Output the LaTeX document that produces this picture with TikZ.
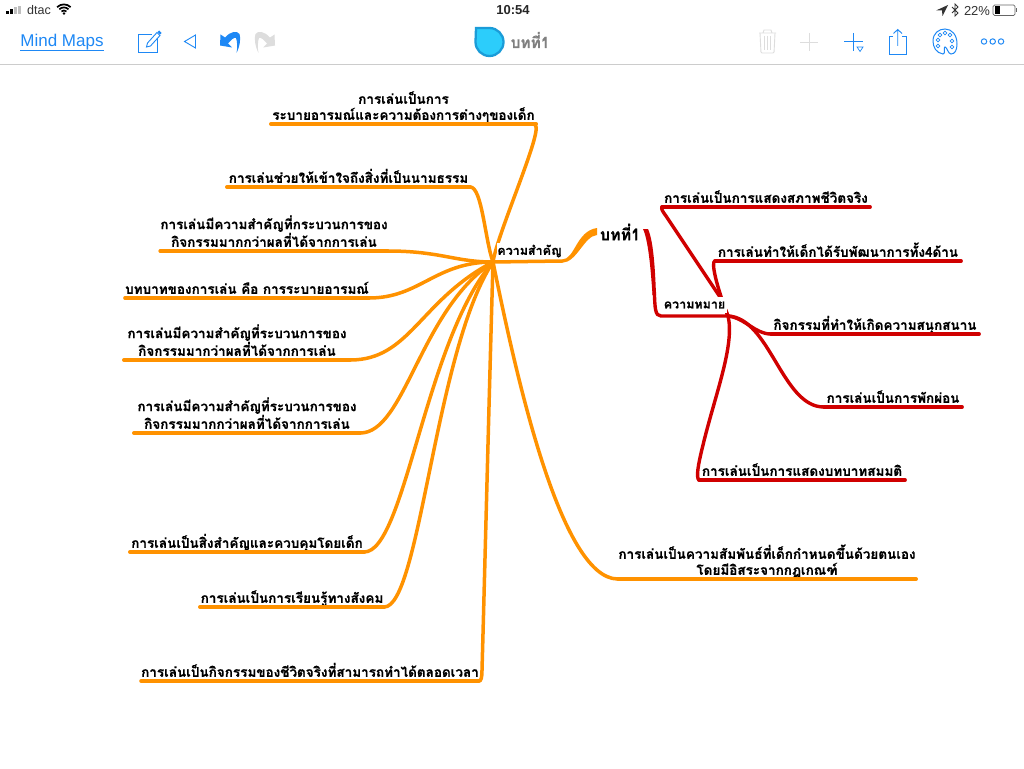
\documentclass[tikz,border=0pt]{standalone}
\usepackage{fontspec}
\setmainfont{Liberation Sans}
\newfontfamily\thaifont[Script=Thai,BoldFeatures={FakeBold=0.5}]{Loma}
\definecolor{mapor}{HTML}{FF9200}
\definecolor{mapred}{HTML}{D00000}
\definecolor{iosblue}{HTML}{1E88F5}
\definecolor{offgray}{HTML}{DDDDDD}
\definecolor{tealrim}{HTML}{1B9CD8}
\definecolor{tealfill}{HTML}{2CCDFB}
\begin{document}
\begin{tikzpicture}[x=1pt,y=-1pt,
  topic/.style={inner sep=0pt,anchor=south,align=center,font=\thaifont\bfseries\fontsize{13.5}{16}\selectfont,text depth=4pt},
  branchor/.style={line width=3.5pt,mapor,line cap=round},
  branchred/.style={line width=3.4pt,mapred,line cap=round},
  mainlabel/.style={inner sep=0pt,fill=white,font=\thaifont\bfseries\fontsize{12.5}{14}\selectfont},
  icon/.style={iosblue,line width=0.9pt},
  officon/.style={offgray,line width=0.9pt}]
\useasboundingbox (0,0) rectangle (1024,768);
\fill[white] (0,0) rectangle (1024,768);
% status bar
\foreach \x/\h/\c in {7.2/3.5/black,11.2/5.5/black,15.2/7.5/gray!50,19.2/8.5/gray!50}
  \fill[\c] (\x-1.4,14.5) rectangle (\x+1.4,14.5-\h);
\node[font=\fontsize{12.5}{14}\selectfont,text=black!80] (carrier) at (39,10.5) {dtac};
\foreach \r in {3.5,6.5,9.5}
  \draw[line width=1.7pt] (64-\r*0.72,14-\r*0.72) arc (225:315:\r);
\fill (64,13.5) circle (1.3);
\node[font=\bfseries\fontsize{13}{15}\selectfont,text=black!85] (clock) at (513,10.5) {10:54};
\fill[black!80] (936,10.5) -- (948,5) -- (942.5,16) -- (942,10.5) -- cycle;
\draw[black!80,line width=0.9pt] (952,7) -- (958,13) -- (955,16) -- (955,4) -- (958,7) -- (952,13);
\node[font=\fontsize{13}{15}\selectfont,text=black!80] (battpct) at (977,10.5) {22\%};
\draw[black!60,rounded corners=1.5pt,line width=0.7pt] (993,5) rectangle (1015,15.5);
\fill (994.5,6.5) rectangle (999.5,14);
\fill[black!60] (1016,8.5) rectangle (1017,12);
% toolbar
\node[font=\fontsize{17}{20}\selectfont,text=iosblue,inner sep=0pt] (back) at (62,42) {Mind Maps};
\draw[iosblue,line width=0.8pt] (20,50.5) -- (104,50.5);
\draw[icon] (157,38) -- (157,52.5) -- (138.5,52.5) -- (138.5,34) -- (152,34);
\draw[icon] (146.5,47) -- (147.5,43) -- (157,32.5) -- (160,35.5) -- (150.5,46) -- cycle;
\fill[iosblue] (157.5,32) -- (159,30.5) -- (161.5,33) -- (160,34.5) -- cycle;
\draw[icon,line join=miter] (184.5,41.5) -- (195.5,35) -- (195.5,48) -- cycle;
\fill[iosblue] (236.5,53) .. controls (240,46) and (241,38) .. (239.5,34)
  .. controls (237,30.5) and (231,31) .. (225,37.5) -- (220.5,34.5) -- (220,45.5) -- (232,47.5)
  -- (228,43.5) .. controls (231,40) and (234,37) .. (236,38) .. controls (237.5,42) and (237.5,48) .. (236.5,53) -- cycle;
\fill[offgray] (258.5,53) .. controls (255,46) and (254,38) .. (255.5,34)
  .. controls (258,30.5) and (264,31) .. (270,37.5) -- (274.5,34.5) -- (275,45.5) -- (263,47.5)
  -- (267,43.5) .. controls (264,40) and (261,37) .. (259,38) .. controls (257.5,42) and (257.5,48) .. (258.5,53) -- cycle;
\draw[tealrim,line width=2.3pt,fill=tealfill] (476,28) -- (489.5,28) arc (270:540:14) -- cycle;
\node[font=\thaifont\bfseries\fontsize{15.5}{18}\selectfont,text=black!50,inner sep=0pt] (doctitle) at (530,40) {บทที่1};
\draw[officon] (759,33) -- (776,33) (763,33) -- (764,30) -- (771,30) -- (772,33);
\draw[officon,rounded corners=1pt] (760,33) -- (761,53) -- (774,53) -- (775,33);
\foreach \x in {764.5,767.5,770.5} \draw[offgray,line width=0.7pt] (\x,36) -- (\x,50);
\draw[officon] (800,42) -- (818,42) (809,33) -- (809,51);
\draw[icon,line width=1pt] (844,42) -- (863,42) (853.5,33) -- (853.5,51);
\draw[icon,line width=0.7pt] (857,47) -- (863,47) -- (860,51.5) -- cycle;
\draw[icon] (893,36.5) -- (889,36.5) -- (889,54) -- (906.5,54) -- (906.5,36.5) -- (902,36.5);
\draw[icon] (897.7,46) -- (897.7,29.5) (893.5,33.5) -- (897.7,29.5) -- (902,33.5);
\draw[icon,line width=1pt] (943,54) .. controls (936,53) and (933,47) .. (933,41) .. controls (933,33) and (939,29) .. (945,29)
  .. controls (952,29) and (957,35) .. (957,44) .. controls (957,50) and (955,54) .. (951,54)
  .. controls (948,54) and (947,47) .. (945,47) .. controls (943,47) and (946,54) .. (943,54) -- cycle;
\foreach \x/\y in {938/40,940/35,945/33,950/35,952/41,938/46,952/47}
  \draw[iosblue,line width=0.6pt] (\x,\y) circle (1.9);
\foreach \x in {984,992.7,1001} \draw[iosblue,line width=1pt] (\x,41.5) circle (2.7);
\draw[gray!40,line width=0.8pt] (0,64.5) -- (1024,64.5);
% map
\coordinate (hub) at (493,262);
\coordinate (hubr) at (728,316);
\foreach \n/\x/\y/\w/\t in {
  a1/403.5/124/265/การเล่นเป็นการ\\ระบายอารมณ์และความต้องการต่างๆของเด็ก,
  a2/348.5/187/243/การเล่นช่วยให้เข้าใจถึงสิ่งที่เป็นนามธรรม,
  a3/274/251/226/การเล่นมีความสำคัญที่กระบวนการของ\\กิจกรรมมากกว่าผลที่ได้จากการเล่น,
  a4/247/298/242/บทบาทของการเล่น คือ การระบายอารมณ์,
  a5/237/360/226/การเล่นมีความสำคัญที่ระบวนการของ\\กิจกรรมมากว่าผลที่ได้จากการเล่น,
  a6/247/433/226/การเล่นมีความสำคัญที่ระบวนการของ\\กิจกรรมมากกว่าผลที่ได้จากการเล่น,
  a7/247/552/234/การเล่นเป็นสิ่งสำคัญและควบคุมโดยเด็ก,
  a8/292/607/184/การเล่นเป็นการเรียนรู้ทางสังคม,
  a9/310/681/334/การเล่นเป็นกิจกรรมของชีวิตจริงที่สามารถทำได้ตลอดเวลา,
  a10/767/579/298/การเล่นเป็นความสัมพันธ์ที่เด็กกำหนดขึ้นด้วยตนเอง\\โดยมีอิสระจากกฎเกณฑ์} {
  \node[topic,minimum width=\w pt] (\n) at (\x,\y) {\t};
  \draw[branchor] (\n.south west) -- (\n.south east);
}
\foreach \n/\x/\y/\w/\t in {
  r1/766/207/208/การเล่นเป็นการแสดงสภาพชีวิตจริง,
  r2/838/261/246/การเล่นทำให้เด็กได้รับพัฒนาการทั้ง4ด้าน,
  r3/875/334/208/กิจกรรมที่ทำให้เกิดความสนุกสนาน,
  r4/893/407/138/การเล่นเป็นการพักผ่อน,
  r5/802/480/206/การเล่นเป็นการแสดงบทบาทสมมติ} {
  \node[topic,minimum width=\w pt] (\n) at (\x,\y) {\t};
  \draw[branchred] (\n.south west) -- (\n.south east);
}
% orange branches
\draw[branchor] (hub) .. controls (497,235) and (539,140) .. (536,127) .. controls (535.5,125) and (534,124) .. (a1.south east);
\draw[branchor] (hub) .. controls (485,240) and (482,187) .. (a2.south east);
\draw[branchor] (hub) .. controls (455,262) and (440,251) .. (a3.south east);
\draw[branchor] (hub) .. controls (435,262) and (420,298) .. (a4.south east);
\draw[branchor] (hub) .. controls (420,300) and (410,360) .. (a5.south east);
\draw[branchor] (hub) .. controls (420,310) and (405,433) .. (a6.south east);
\draw[branchor] (hub) .. controls (425,340) and (405,552) .. (a7.south east);
\draw[branchor] (hub) .. controls (435,350) and (420,607) .. (a8.south east);
\draw[branchor] (hub) .. controls (489,400) and (484,600) .. (482,670) .. controls (482,678) and (481,681) .. (a9.south east);
\draw[branchor] (hub) .. controls (515,370) and (560,579) .. (a10.south west);
\draw[branchor] (hub) -- (562,261);
\fill[mapor] (562,259.5) .. controls (575,259.5) and (576,231) .. (597,228) -- (597,235) .. controls (584,236) and (577,262.5) .. (562,262.8) -- cycle;
% red branches
\draw[branchred] (r1.south west) .. controls (661,209) and (663,212) .. (666,216) -- (720,297) -- (hubr);
\draw[branchred] (r2.south west) .. controls (711,262) and (716,285) .. (hubr);
\draw[branchred] (hubr) .. controls (745,318) and (755,334) .. (r3.south west);
\draw[branchred] (hubr) .. controls (770,318) and (782,407) .. (r4.south west);
\draw[branchred] (r5.south west) .. controls (696,477) and (698,465) .. (703,445) .. controls (715,395) and (735,345) .. (hubr);
\draw[branchred] (hubr) -- (661,316) .. controls (655,316) and (655,308) .. (654.3,292);
\fill[mapred] (643,229) .. controls (648,240) and (650.5,265) .. (652.5,295) -- (656,295) .. controls (655,265) and (653,240) .. (648,229) -- cycle;
% labels on top
\node[mainlabel,minimum width=65pt,minimum height=16pt] (samkhan) at (529.5,251) {ความสำคัญ};
\node[mainlabel,minimum width=65pt,minimum height=16pt] (maai) at (694.5,305) {ความหมาย};
\node[inner sep=0pt,font=\thaifont\bfseries\fontsize{16}{18}\selectfont] (root) at (620,232) {บทที่1};
\end{tikzpicture}
\end{document}
